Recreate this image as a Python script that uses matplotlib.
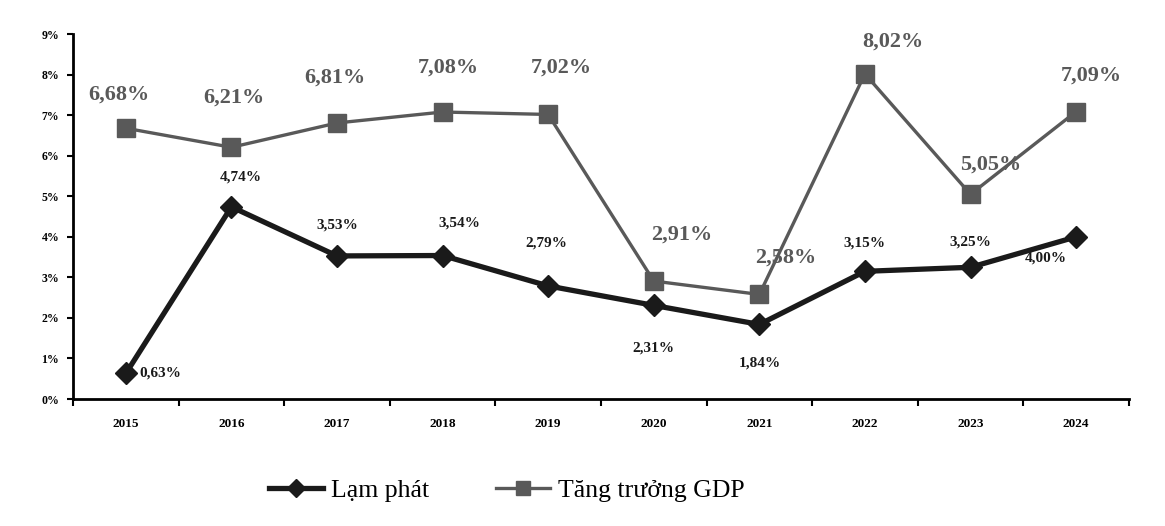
import matplotlib
matplotlib.use("Agg")
import matplotlib.pyplot as plt

years = ["2015", "2016", "2017", "2018", "2019", "2020", "2021", "2022", "2023", "2024"]
inflation = [0.63, 4.74, 3.53, 3.54, 2.79, 2.31, 1.84, 3.15, 3.25, 4.00]
gdp = [6.68, 6.21, 6.81, 7.08, 7.02, 2.91, 2.58, 8.02, 5.05, 7.09]

# label offsets in pixels (dx, dy)
infl_off = [(34, 0), (9, 30), (0, 31), (17, 33), (-2, 43), (0, -43), (0, -39), (0, 28), (0, 25), (-30, -21)]
gdp_off = [(-7, 34), (2, 50), (-2, 45), (6, 44), (13, 47), (28, 46), (26, 37), (28, 32), (20, 30), (15, 36)]

plt.rcParams['font.family'] = ['Liberation Serif', 'DejaVu Serif']

fig = plt.figure(figsize=(11.65, 5.26), dpi=100)
ax = fig.add_axes([0.0627, 0.2414, 0.9063, 0.6936])

x = list(range(len(years)))
l1, = ax.plot(x, inflation, color="#1a1a1a", lw=3.8, marker="D", markersize=11.5,
              label="Lạm phát", zorder=3)
l2, = ax.plot(x, gdp, color="#595959", lw=2.4, marker="s", markersize=13,
              label="Tăng trưởng GDP", zorder=2)

for i, v in enumerate(inflation):
    ax.annotate(f"{v:.2f}%".replace(".", ","), (i, v), xytext=infl_off[i],
                textcoords="offset pixels", ha="center", va="center",
                fontsize=11, fontweight="bold", color="#1a1a1a")
for i, v in enumerate(gdp):
    ax.annotate(f"{v:.2f}%".replace(".", ","), (i, v), xytext=gdp_off[i],
                textcoords="offset pixels", ha="center", va="center",
                fontsize=16, fontweight="bold", color="#595959")

ax.set_xlim(-0.5, len(years) - 0.5)
ax.set_ylim(0, 9)
ax.set_yticks(range(10))
ax.set_yticklabels([f"{i}%" for i in range(10)], fontsize=8.5, fontweight="bold")
ax.set_xticks([i - 0.5 for i in range(len(years) + 1)])
ax.set_xticklabels([])
ax.set_xticks(x, minor=True)
ax.set_xticklabels(years, minor=True, fontsize=9.5, fontweight="bold")
ax.tick_params(axis="x", which="minor", length=0, pad=14)
ax.tick_params(axis="x", which="major", length=5, width=1.5, direction="out")
ax.tick_params(axis="y", length=4, width=1.5, direction="out", pad=6)

for s in ["top", "right"]:
    ax.spines[s].set_visible(False)
for s in ["left", "bottom"]:
    ax.spines[s].set_linewidth(2)
    ax.spines[s].set_color("black")

fig.legend(handles=[l1, l2], loc="center", bbox_to_anchor=(0.435, 0.068), ncol=2,
           frameon=False, fontsize=18.5, handlelength=2.1, columnspacing=2.6,
           handletextpad=0.3, markerscale=0.8)

fig.savefig("out.png", dpi=100)
